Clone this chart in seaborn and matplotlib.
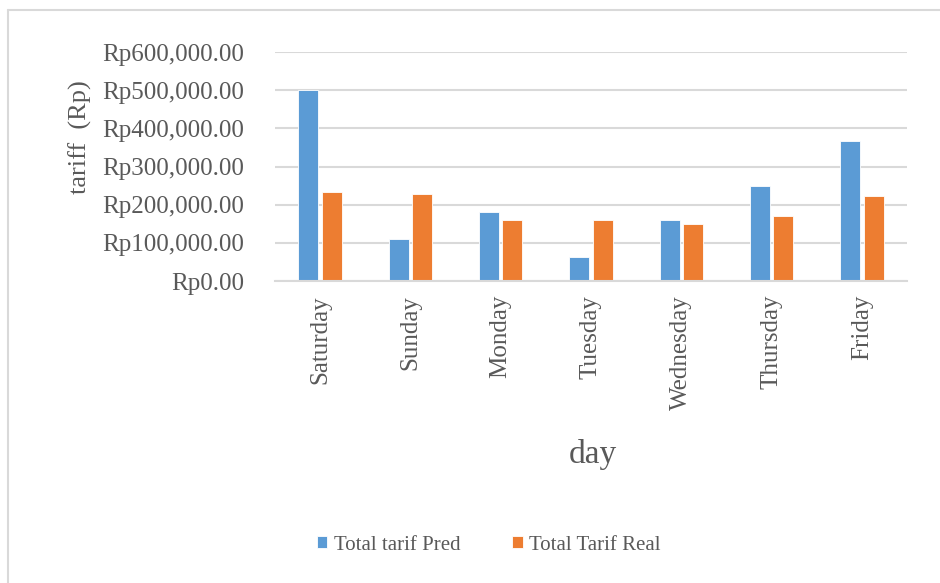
import matplotlib
matplotlib.use("Agg")
import matplotlib.pyplot as plt
from matplotlib.lines import Line2D
from matplotlib.ticker import FuncFormatter
import pandas as pd
import seaborn as sns

# data
days = ["Saturday", "Sunday", "Monday", "Tuesday", "Wednesday", "Thursday", "Friday"]
pred = [500000, 111000, 181000, 64000, 159000, 250000, 367000]
real = [233000, 229000, 159000, 159000, 150000, 171000, 224000]
series = ["Total tarif Pred", "Total Tarif Real"]
colors = ["#5B9BD5", "#ED7D31"]

df = pd.DataFrame({
    "day": days * 2,
    "tarif": pred + real,
    "series": [series[0]] * len(days) + [series[1]] * len(days),
})

sns.set_style("white")
plt.rcParams["font.family"] = ["Liberation Serif", "DejaVu Serif"]
grey = "#595959"

fig = plt.figure(figsize=(9.4, 5.83), dpi=100)
ax = fig.add_axes([275 / 940, 1 - 281 / 583, 632 / 940, 229 / 583])

sns.barplot(data=df, x="day", y="tarif", hue="series", palette=colors, saturation=1,
            width=0.52, gap=0.15, edgecolor="white", linewidth=0.6, ax=ax)

ax.set_ylim(0, 600000)
ax.set_yticks(range(0, 600001, 100000))
ax.yaxis.set_major_formatter(FuncFormatter(lambda v, p: "Rp{:,.2f}".format(v)))
ax.grid(axis="y", color="#d9d9d9", linewidth=1.5)
ax.set_axisbelow(True)
for s in ["left", "right", "top"]:
    ax.spines[s].set_visible(False)
ax.spines["bottom"].set_color("#d9d9d9")
ax.spines["bottom"].set_linewidth(1.5)

ax.tick_params(axis="y", length=0, pad=22, labelsize=18, labelcolor=grey)
ax.tick_params(axis="x", length=0, pad=10, labelsize=18, labelcolor=grey, rotation=90)

ax.set_ylabel("tariff  (Rp)", fontsize=19, color=grey)
ax.yaxis.set_label_coords(-0.29, 0.63)
ax.set_xlabel("day", fontsize=24, color=grey)
ax.xaxis.set_label_coords(0.503, -0.69)

handles, labels = ax.get_legend_handles_labels()
ax.legend_.remove()
fig.legend(handles, labels, loc="center", bbox_to_anchor=(0.52, 1 - 545 / 583),
           ncol=2, frameon=False, fontsize=15, labelcolor=grey,
           handlelength=0.5, handleheight=0.5, handletextpad=0.3, columnspacing=2.5)

# chart frame (left and top edges only visible)
fig.add_artist(Line2D([8 / 940, 8 / 940], [0, 1 - 10 / 583], color="#d9d9d9", lw=1.5))
fig.add_artist(Line2D([8 / 940, 1], [1 - 10 / 583, 1 - 10 / 583], color="#d9d9d9", lw=1.5))

fig.savefig("out.png", dpi=100)
